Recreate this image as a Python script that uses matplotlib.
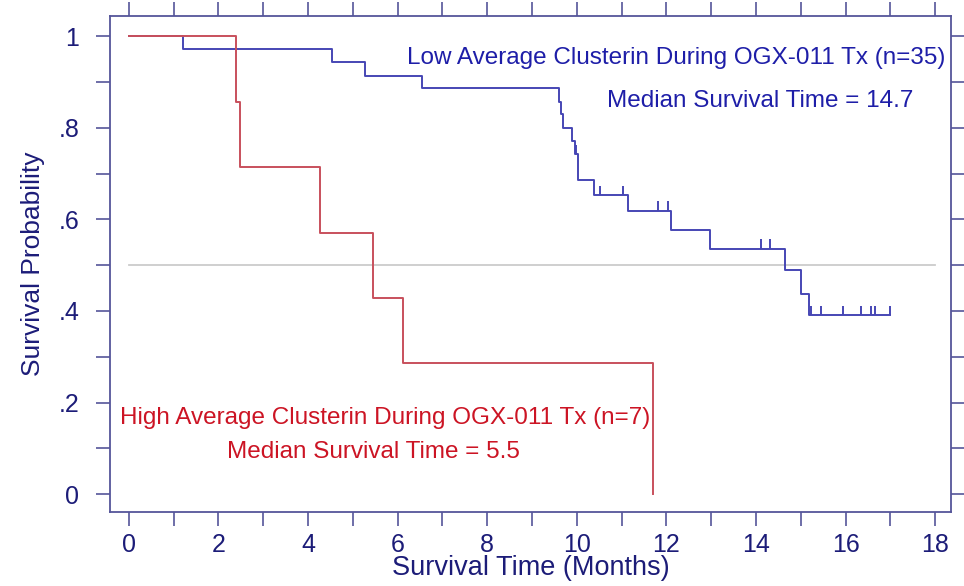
import matplotlib.pyplot as plt
import numpy as np

plt.rcParams['font.family'] = ['Liberation Sans', 'DejaVu Sans']

# Low average clusterin group (n=35): step times and survival after each step
low_t = [0, 1.2, 4.53, 5.27, 6.55, 9.60, 9.65, 9.70, 9.90, 9.95, 10.02,
         10.38, 11.14, 12.09, 12.97, 14.64, 15.01, 15.18]
low_s = [1.0, 0.971, 0.943, 0.914, 0.886, 0.857, 0.829, 0.800, 0.771, 0.743,
         0.686, 0.653, 0.619, 0.576, 0.536, 0.489, 0.437, 0.391]
low_end = 17.0
low_cens = [9.97, 10.51, 11.03, 11.81, 12.04, 14.12, 14.31,
            15.23, 15.46, 15.93, 16.35, 16.57, 16.65, 16.98]

# High average clusterin group (n=7)
high_t = [0, 2.40, 2.48, 4.26, 5.45, 6.11, 11.71]
high_s = [1.0, 0.857, 0.714, 0.571, 0.429, 0.286, 0.0]

median_level = 0.5
x_ticks = np.arange(0, 19, 2)
y_ticks = [0, 0.2, 0.4, 0.6, 0.8, 1.0]
y_ticklabels = ['0', '.2', '.4', '.6', '.8', '1']

navy = '#1c1c78'
frame = '#55559a'
blue_line = '#4646b4'
red_line = '#c8505c'
blue_txt = '#1e1ea8'
red_txt = '#cc1424'

fig = plt.figure(figsize=(9.64, 5.86), dpi=100)
ax = fig.add_axes([0.1141, 0.1263, 0.8724, 0.8464])

ax.plot([0, 18], [median_level, median_level], color='#cccccc', lw=1.3)

ax.step(low_t + [low_end], low_s + [low_s[-1]], where='post',
        color=blue_line, lw=1.4)
ax.step(high_t, high_s, where='post', color=red_line, lw=1.4)


def surv_at(t, times, surv):
    idx = np.searchsorted(times, t, side='right') - 1
    return surv[idx]


cs = [surv_at(c, low_t, low_s) for c in low_cens]
ax.vlines(low_cens, cs, np.array(cs) + 0.02, color=blue_line, lw=1.4)

ax.text(12.22, 0.952, 'Low Average Clusterin During OGX-011 Tx (n=35)',
        color=blue_txt, fontsize=17.5, ha='center', va='center')
ax.text(14.09, 0.858, 'Median Survival Time = 14.7',
        color=blue_txt, fontsize=17.5, ha='center', va='center')
ax.text(5.73, 0.166, 'High Average Clusterin During OGX-011 Tx (n=7)',
        color=red_txt, fontsize=17.5, ha='center', va='center')
ax.text(5.45, 0.092, 'Median Survival Time = 5.5',
        color=red_txt, fontsize=17.5, ha='center', va='center')

ax.set_xlim(-0.42, 18.35)
ax.set_ylim(-0.039, 1.044)
ax.set_xticks(x_ticks)
ax.set_xticks(np.arange(0, 19, 1), minor=True)
ax.set_yticks(y_ticks)
ax.set_yticklabels(y_ticklabels)
ax.set_yticks(np.arange(0, 1.01, 0.1), minor=True)

for s in ax.spines.values():
    s.set_color(frame)
    s.set_linewidth(1.3)

ax.tick_params(which='both', direction='out', length=10, width=1.2,
               color=frame, top=True, right=True, labelcolor=navy,
               labelsize=18)
ax.tick_params(axis='x', pad=5)
ax.tick_params(axis='y', pad=12)

ax.set_xlabel('Survival Time (Months)', color=navy, fontsize=19.5, labelpad=-1)
ax.set_ylabel('Survival Probability', color=navy, fontsize=19, labelpad=10)

fig.savefig('out.png', dpi=100)
